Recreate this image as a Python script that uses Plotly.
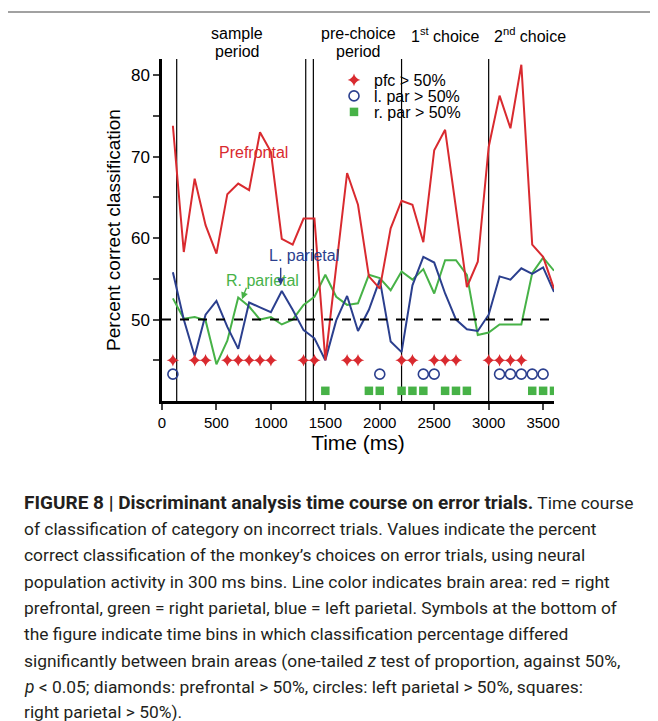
import plotly.graph_objects as go

# ---------------- data ----------------
time_ms = [100, 200, 300, 400, 500, 600, 700, 800, 900, 1000, 1100, 1200,
           1300, 1400, 1500, 1600, 1700, 1800, 1900, 2000, 2100, 2200, 2300, 2400,
           2500, 2600, 2700, 2800, 2900, 3000, 3100, 3200, 3300, 3400, 3500, 3600]

prefrontal = [73.8, 58.3, 67.3, 61.6, 58.1, 65.4, 66.7, 65.9, 73.0, 70.6, 59.9, 59.2,
              62.4, 62.4, 45.0, 56.5, 68.0, 64.1, 55.3, 53.8, 61.2, 64.6, 64.1, 59.5,
              70.8, 73.3, 63.6, 54.0, 57.1, 71.2, 77.5, 73.5, 81.3, 59.2, 57.7, 53.8]

l_parietal = [55.8, 50.0, 45.5, 50.6, 52.3, 49.1, 46.4, 52.1, 51.5, 50.9, 53.5, 51.2,
              48.7, 47.7, 45.0, 49.9, 52.9, 48.6, 51.2, 54.9, 47.3, 46.0, 54.2, 57.7,
              57.0, 53.2, 50.0, 48.8, 48.6, 50.6, 55.3, 54.9, 56.3, 55.6, 56.4, 53.4]

r_parietal = [52.6, 50.1, 50.3, 49.9, 44.5, 47.4, 52.7, 51.6, 50.0, 50.3, 49.4, 50.0,
              51.8, 52.8, 55.5, 52.8, 51.8, 52.0, 55.5, 55.1, 53.6, 55.9, 54.9, 56.2,
              53.2, 57.3, 57.3, 55.5, 48.1, 48.4, 49.4, 49.4, 49.4, 55.7, 57.6, 56.0]

# significant bins
pfc_sig = [100, 300, 400, 600, 700, 800, 900, 1000, 1300, 1400, 1700, 1800,
           2200, 2300, 2500, 2600, 2700, 3000, 3100, 3200, 3300]
lpar_sig = [100, 2000, 2400, 2500, 3100, 3200, 3300, 3400, 3500]
rpar_sig = [1500, 1900, 2000, 2200, 2300, 2400, 2600, 2700, 2800, 3400, 3500, 3600]

event_times = [135, 1320, 1390, 2200, 3000]
chance_level = 50

x_ticks = [0, 500, 1000, 1500, 2000, 2500, 3000, 3500]
y_ticks = [45, 50, 55, 60, 65, 70, 75, 80]
y_ticktext = ["", "50", "", "60", "", "70", "", "80"]

period_labels = [("sample", "period", 237), ("pre-choice", "period", 358)]
choice_labels = [("1<sup>st</sup> choice", 445), ("2<sup>nd</sup> choice", 530)]

caption_lines = [
    "<span style='font-size:19px'><b>FIGURE 8 | Discriminant analysis time course on error trials.</b></span> Time course",
    "of classification of category on incorrect trials. Values indicate the percent",
    "correct classification of the monkey’s choices on error trials, using neural",
    "population activity in 300 ms bins. Line color indicates brain area: red = right",
    "prefrontal, green = right parietal, blue = left parietal. Symbols at the bottom of",
    "the figure indicate time bins in which classification percentage differed",
    "significantly between brain areas (one-tailed <i>z</i> test of proportion, against 50%,",
    "<i>p</i> &lt; 0.05; diamonds: prefrontal &gt; 50%, circles: left parietal &gt; 50%, squares:",
    "right parietal &gt; 50%).",
]

# ---------------- styling / layout helpers ----------------
OFF = 8                      # page body margin of the html wrapper
W, H = 658 - OFF, 721 - OFF  # figure size
PL, PR, PT, PB = 162, 554, 59, 401   # plot area in page pixels
RED, BLUE, GREEN = "#d92a2f", "#2b3f8e", "#47b247"
FONT = "Liberation Sans, Arial, sans-serif"
CAP_FONT = "Roboto, Liberation Sans, sans-serif"

PFC_ROW, LPAR_ROW, RPAR_ROW = 45.0, 43.3, 41.25


def px(x):
    return (x - PL) / (PR - PL)


def py(y):
    return (PB - y) / (PB - PT)


fig = go.Figure()

fig.add_trace(go.Scatter(x=time_ms, y=r_parietal, mode="lines",
                         line=dict(color=GREEN, width=2), showlegend=False))
fig.add_trace(go.Scatter(x=time_ms, y=l_parietal, mode="lines",
                         line=dict(color=BLUE, width=2), showlegend=False))
fig.add_trace(go.Scatter(x=time_ms, y=prefrontal, mode="lines",
                         line=dict(color=RED, width=2), showlegend=False))

fig.add_trace(go.Scatter(x=pfc_sig, y=[PFC_ROW] * len(pfc_sig), mode="markers",
                         name="pfc &gt; 50%", legend="legend",
                         marker=dict(symbol="star-diamond", size=9, color=RED)))
fig.add_trace(go.Scatter(x=lpar_sig, y=[LPAR_ROW] * len(lpar_sig), mode="markers",
                         name="l. par &gt; 50%", legend="legend2",
                         marker=dict(symbol="circle-open", size=10, color=BLUE,
                                     line=dict(width=1.6, color=BLUE))))
fig.add_trace(go.Scatter(x=rpar_sig, y=[RPAR_ROW] * len(rpar_sig), mode="markers",
                         name="r. par &gt; 50%", legend="legend3",
                         marker=dict(symbol="square", size=8.5, color=GREEN)))

shapes = []
for t in event_times:
    shapes.append(dict(type="line", xref="x", yref="paper", x0=t, x1=t, y0=0, y1=1,
                       line=dict(color="black", width=1.2), layer="below"))
shapes.append(dict(type="line", xref="paper", yref="y", x0=0, x1=1,
                   y0=chance_level, y1=chance_level,
                   line=dict(color="black", width=2, dash="dash")))
# figure frame
shapes.append(dict(type="rect", xref="paper", yref="paper",
                   x0=px(6), x1=px(720), y0=py(790), y1=py(12),
                   line=dict(color="#444444", width=1.2)))

annotations = []
for top, bottom, cx in period_labels:
    annotations.append(dict(text=top, xref="paper", yref="paper", x=px(cx), y=py(33),
                            showarrow=False, font=dict(family=FONT, size=16, color="black"),
                            xanchor="center", yanchor="middle"))
    annotations.append(dict(text=bottom, xref="paper", yref="paper", x=px(cx), y=py(51),
                            showarrow=False, font=dict(family=FONT, size=16, color="black"),
                            xanchor="center", yanchor="middle"))
for txt, cx in choice_labels:
    annotations.append(dict(text=txt, xref="paper", yref="paper", x=px(cx), y=py(35),
                            showarrow=False, font=dict(family=FONT, size=16, color="black"),
                            xanchor="center", yanchor="middle"))

annotations.append(dict(text="Prefrontal", xref="paper", yref="paper", x=px(217), y=py(142),
                        showarrow=False, font=dict(family=FONT, size=16, color=RED)))
annotations.append(dict(text="L. parietal", xref="paper", yref="paper", x=px(267), y=py(256),
                        showarrow=False, font=dict(family=FONT, size=16, color=BLUE)))
annotations.append(dict(text="R. parietal", xref="paper", yref="paper", x=px(224), y=py(280),
                        showarrow=False, font=dict(family=FONT, size=16, color=GREEN)))
# arrows
annotations.append(dict(text="", x=1090, y=54.2, xref="x", yref="y", showarrow=True,
                        ax=0, ay=-19, arrowhead=2, arrowsize=1, arrowwidth=1.4,
                        arrowcolor=BLUE, standoff=0))
annotations.append(dict(text="", x=735, y=52.5, xref="x", yref="y", showarrow=True,
                        ax=5, ay=-13, arrowhead=2, arrowsize=1, arrowwidth=1.4,
                        arrowcolor=GREEN, standoff=0))

cap_y = [502, 528.5, 555, 581.5, 608, 634, 660.5, 687, 712]
for line, yy in zip(caption_lines, cap_y):
    annotations.append(dict(text=line, xref="paper", yref="paper", x=px(22), y=py(yy),
                            showarrow=False, xanchor="left", yanchor="middle",
                            font=dict(family=CAP_FONT, size=17.4, color="#231f20")))

leg_common = dict(xanchor="left", yanchor="middle", bgcolor="rgba(0,0,0,0)",
                  font=dict(family=FONT, size=16, color="black"), borderwidth=0,
                  itemsizing="trace")

fig.update_layout(
    width=W, height=H,
    margin=dict(l=PL - OFF, r=W - (PR - OFF), t=PT - OFF, b=H - (PB - OFF), pad=0),
    paper_bgcolor="white", plot_bgcolor="white",
    font=dict(family=FONT, color="black"),
    shapes=shapes, annotations=annotations,
    legend=dict(x=px(334), y=py(80), **leg_common),
    legend2=dict(x=px(334), y=py(96), **leg_common),
    legend3=dict(x=px(334), y=py(112), **leg_common),
    xaxis=dict(range=[0, 3600], tickvals=x_ticks, ticks="outside", ticklen=6, tickwidth=2,
               showline=True, linewidth=2.5, linecolor="black", showgrid=False, zeroline=False,
               tickfont=dict(size=15, family=FONT, color="black"),
               title=dict(text="Time (ms)", font=dict(size=21, family=FONT, color="black"),
                          standoff=6)),
    yaxis=dict(range=[40, 82], tickvals=y_ticks, ticktext=y_ticktext, ticks="outside",
               ticklen=6, tickwidth=2, showline=True, linewidth=2.5, linecolor="black",
               showgrid=False, zeroline=False,
               tickfont=dict(size=17, family=FONT, color="black"),
               title=dict(text="Percent correct classification",
                          font=dict(size=19, family=FONT, color="black"), standoff=6)),
)

fig.write_html("out.html")
